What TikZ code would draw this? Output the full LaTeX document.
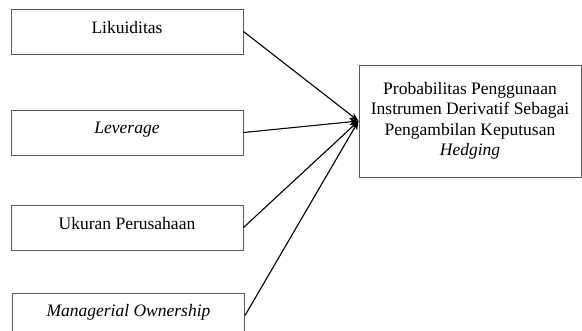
\documentclass[tikz,border=0pt]{standalone}
\usepackage{fontspec}
\setmainfont{Liberation Serif}
\usetikzlibrary{arrows.meta,positioning}
\definecolor{boxgray}{RGB}{90,90,90}

\begin{document}
\begin{tikzpicture}[x=1pt, y=-1pt, font=\fontsize{17.5}{20.5}\selectfont, node distance=55pt,
      varbox/.style={rectangle, draw=boxgray, line width=1pt, minimum width=232pt,
                     minimum height=45pt, inner sep=0pt, align=center, text depth=9pt},
      link/.style={-{Stealth[length=9pt,width=7pt]}, line width=1.1pt, black}]
    \useasboundingbox (0,0) rectangle (582,330);
    \node[varbox] (liq) at (127,31.5) {Likuiditas};
    \node[varbox, below=55pt of liq] (lev) {\textit{Leverage}};
    \node[varbox, below=49pt of lev] (size) {Ukuran Perusahaan};
    \node[varbox, below=42pt of size, xshift=1.5pt, text depth=11pt] (own) {\textit{Managerial Ownership}};
    \node[varbox, minimum width=222pt, minimum height=112pt, text depth=4pt] (hedge) at (470,121)
      {Probabilitas Penggunaan\\Instrumen Derivatif Sebagai\\Pengambilan Keputusan\\\textit{Hedging}};
    \draw[link] (liq.east) -- (hedge.west);
    \draw[link] (lev.east) -- (hedge.west);
    \draw[link] (size.east) -- (hedge.west);
    \draw[link] (own.east) -- (hedge.west);
  \end{tikzpicture}
\end{document}
